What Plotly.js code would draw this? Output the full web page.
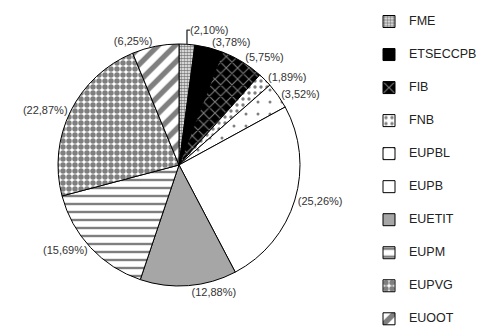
<!DOCTYPE html>
<html><head><meta charset="utf-8">
<script src="https://cdn.plot.ly/plotly-3.0.1.min.js"></script>
<style>html,body{margin:0;padding:0;background:#fff}#c{width:492px;height:336px}</style>
</head><body><div id="c"></div>
<script>
const categories = ["FME","ETSECCPB","FIB","FNB","EUPBL","EUPB","EUETIT","EUPM","EUPVG","EUOOT"];
const values = [2.10, 3.78, 5.75, 1.89, 3.52, 25.26, 12.88, 15.69, 22.87, 6.25];
const colors = ["#ffffff","#000000","#000000","#ffffff","#ffffff","#ffffff","#a6a6a6","#ffffff","#ffffff","#ffffff"];
const pShapes = [".", "", "x", ".", ".", "", "", "-", ".", "/"];
const pFg = ["#000","#000","#fff","#000","#000","#000","#000","#000","#000","#000"];
const pSize = [3, 8, 8, 6, 12, 8, 8, 8, 6, 12];
const pSolid = [0.65, 0.3, 0.25, 0.25, 0.05, 0.3, 0.3, 0.3, 0.65, 0.45];

const legendLabels = categories.map(c => ' <br><span style="font-size:12.5px">' + c + '</span><br> ');

const trace = {
  type: 'pie',
  labels: legendLabels,
  values: values,
  sort: false,
  direction: 'clockwise',
  rotation: 0,
  textposition: 'outside',
  texttemplate: '(%{value:.2f}%)',
  textfont: {family: 'Liberation Sans, Arial, sans-serif', size: 11, color: '#333'},
  marker: {
    colors: colors,
    line: {color: '#000', width: 1},
    pattern: {shape: pShapes, fgcolor: pFg, bgcolor: colors, size: pSize, solidity: pSolid, fillmode: 'overlay'}
  },
  domain: {x: [58/492, 300/492], y: [1-286/336, 1-44/336]},
  hoverinfo: 'none'
};

const layout = {
  width: 492, height: 336,
  margin: {l: 0, r: 0, t: 0, b: 0},
  separators: ',.',
  paper_bgcolor: '#fff',
  showlegend: true,
  legend: {
    x: 369/492, xanchor: 'left', y: 1, yanchor: 'top',
    font: {family: 'Liberation Sans, Arial, sans-serif', size: 7.7, color: '#222'},
    bgcolor: 'rgba(0,0,0,0)'
  },
  font: {family: 'Liberation Sans, Arial, sans-serif'}
};

Plotly.newPlot('c', [trace], layout, {staticPlot: true, displayModeBar: false});
</script>
</body></html>
